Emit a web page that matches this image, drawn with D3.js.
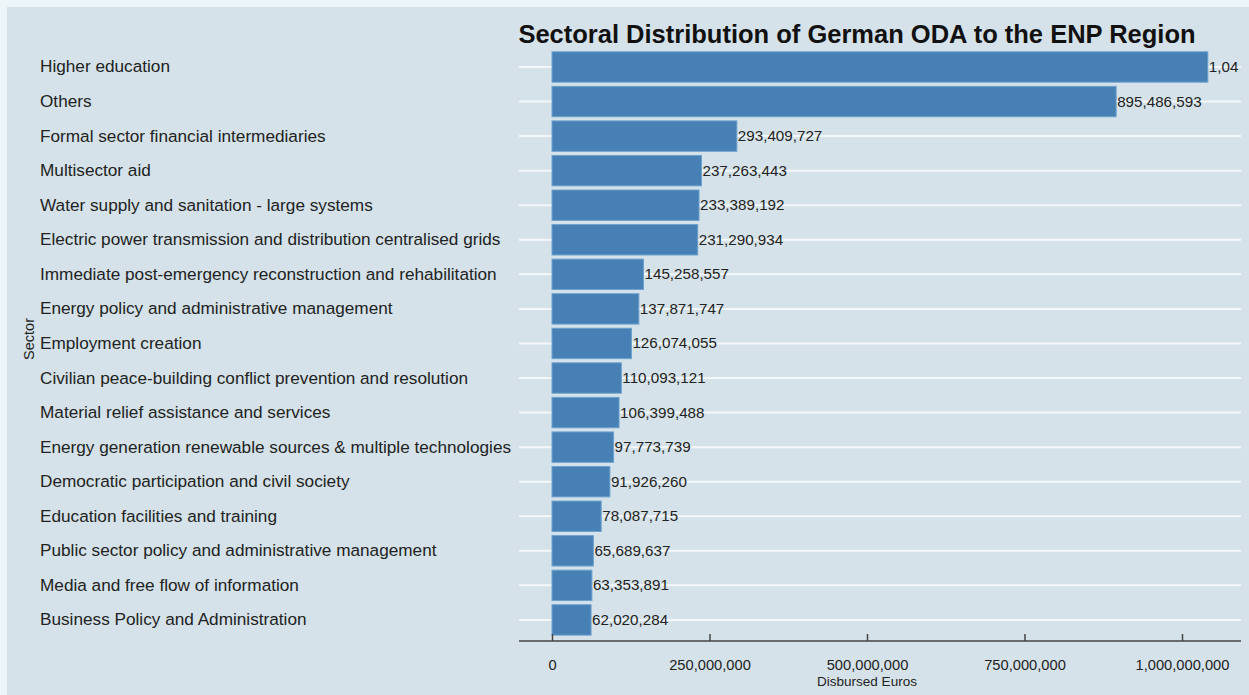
<!DOCTYPE html>
<html>
<head>
<meta charset="utf-8">
<script src="https://cdn.jsdelivr.net/npm/d3@7"></script>
<style>
  html, body { margin: 0; padding: 0; background: #edf5f8; }
  svg { display: block; }
  text { font-family: "Liberation Sans", Arial, Helvetica, sans-serif; }
</style>
</head>
<body>
<svg id="chart" width="1249" height="695"></svg>
<script>
// Sectors, ordered from largest to smallest disbursement
const sectors = [
  "Higher education",
  "Others",
  "Formal sector financial intermediaries",
  "Multisector aid",
  "Water supply and sanitation - large systems",
  "Electric power transmission and distribution centralised grids",
  "Immediate post-emergency reconstruction and rehabilitation",
  "Energy policy and administrative management",
  "Employment creation",
  "Civilian peace-building conflict prevention and resolution",
  "Material relief assistance and services",
  "Energy generation renewable sources & multiple technologies",
  "Democratic participation and civil society",
  "Education facilities and training",
  "Public sector policy and administrative management",
  "Media and free flow of information",
  "Business Policy and Administration"
];

// Disbursed euros per sector
const disbursed = [
  1041000000,
  895486593,
  293409727,
  237263443,
  233389192,
  231290934,
  145258557,
  137871747,
  126074055,
  110093121,
  106399488,
  97773739,
  91926260,
  78087715,
  65689637,
  63353891,
  62020284
];

const xTicks = [0, 250000000, 500000000, 750000000, 1000000000];

const titleText = "Sectoral Distribution of German ODA to the ENP Region";
const xTitle = "Disbursed Euros";
const yTitle = "Sector";

const rows = sectors.map((s, i) => ({ sector: s, value: disbursed[i] }));

const svg = d3.select("#chart");
const fmt = d3.format(",");

// panel background
svg.append("rect")
  .attr("x", 7).attr("y", 7)
  .attr("width", 1249 - 7).attr("height", 695 - 7)
  .attr("fill", "#d5e2e9");

const plotLeft = 519, plotRight = 1241;

const x = d3.scaleLinear().domain([0, 1000000000]).range([552, 1182]);
const y = d3.scaleBand()
  .domain(sectors)
  .range([49.7, 637.2])
  .paddingInner(0.12)
  .paddingOuter(0.06);

// value labels are clipped at the right edge of the plot area
svg.append("defs").append("clipPath").attr("id", "plotClip")
  .append("rect")
  .attr("x", plotLeft).attr("y", 0)
  .attr("width", 1239 - plotLeft).attr("height", 695);

// title
svg.append("text")
  .attr("x", 857).attr("y", 43)
  .attr("text-anchor", "middle")
  .attr("font-size", 25.5)
  .attr("font-weight", "bold")
  .attr("fill", "#111")
  .text(titleText);

// horizontal gridlines at each category
svg.append("g").selectAll("line")
  .data(rows)
  .join("line")
  .attr("x1", plotLeft).attr("x2", plotRight)
  .attr("y1", d => y(d.sector) + y.bandwidth() / 2)
  .attr("y2", d => y(d.sector) + y.bandwidth() / 2)
  .attr("stroke", "#f4f8fa")
  .attr("stroke-width", 2);

// bars
svg.append("g").selectAll("rect")
  .data(rows)
  .join("rect")
  .attr("x", x(0))
  .attr("y", d => y(d.sector))
  .attr("width", d => x(d.value) - x(0))
  .attr("height", y.bandwidth())
  .attr("fill", "#4680b4")
  .attr("stroke", "#6ea2cf")
  .attr("stroke-width", 1);

// value labels
svg.append("g").attr("clip-path", "url(#plotClip)")
  .selectAll("text")
  .data(rows)
  .join("text")
  .attr("x", d => x(d.value) + 1)
  .attr("y", d => y(d.sector) + y.bandwidth() / 2 + 5)
  .attr("font-size", 15.2)
  .attr("fill", "#222")
  .text(d => fmt(d.value));

// category labels, left aligned
svg.append("g").selectAll("text")
  .data(rows)
  .join("text")
  .attr("x", 40)
  .attr("y", d => y(d.sector) + y.bandwidth() / 2 + 5.5)
  .attr("font-size", 17.2)
  .attr("fill", "#222")
  .text(d => d.sector);

// x axis
const axisY = 641;
svg.append("line")
  .attr("x1", plotLeft).attr("x2", plotRight)
  .attr("y1", axisY).attr("y2", axisY)
  .attr("stroke", "#444").attr("stroke-width", 1.5);

const xAxis = d3.axisBottom(x)
  .tickValues(xTicks)
  .tickSize(-7)
  .tickPadding(19)
  .tickFormat(fmt);

const gx = svg.append("g")
  .attr("transform", `translate(0,${axisY})`)
  .call(xAxis);
gx.select(".domain").remove();
gx.selectAll(".tick line").attr("stroke", "#444").attr("stroke-width", 1.5);
gx.selectAll(".tick text")
  .attr("font-size", 14.7)
  .attr("font-family", "Liberation Sans, Arial, sans-serif")
  .attr("fill", "#222");

// axis titles
svg.append("text")
  .attr("x", x(500000000)).attr("y", 686)
  .attr("text-anchor", "middle")
  .attr("font-size", 13.5)
  .attr("fill", "#222")
  .text(xTitle);

svg.append("text")
  .attr("transform", "translate(34,339) rotate(-90)")
  .attr("text-anchor", "middle")
  .attr("font-size", 14.5)
  .attr("fill", "#222")
  .text(yTitle);
</script>
</body>
</html>
